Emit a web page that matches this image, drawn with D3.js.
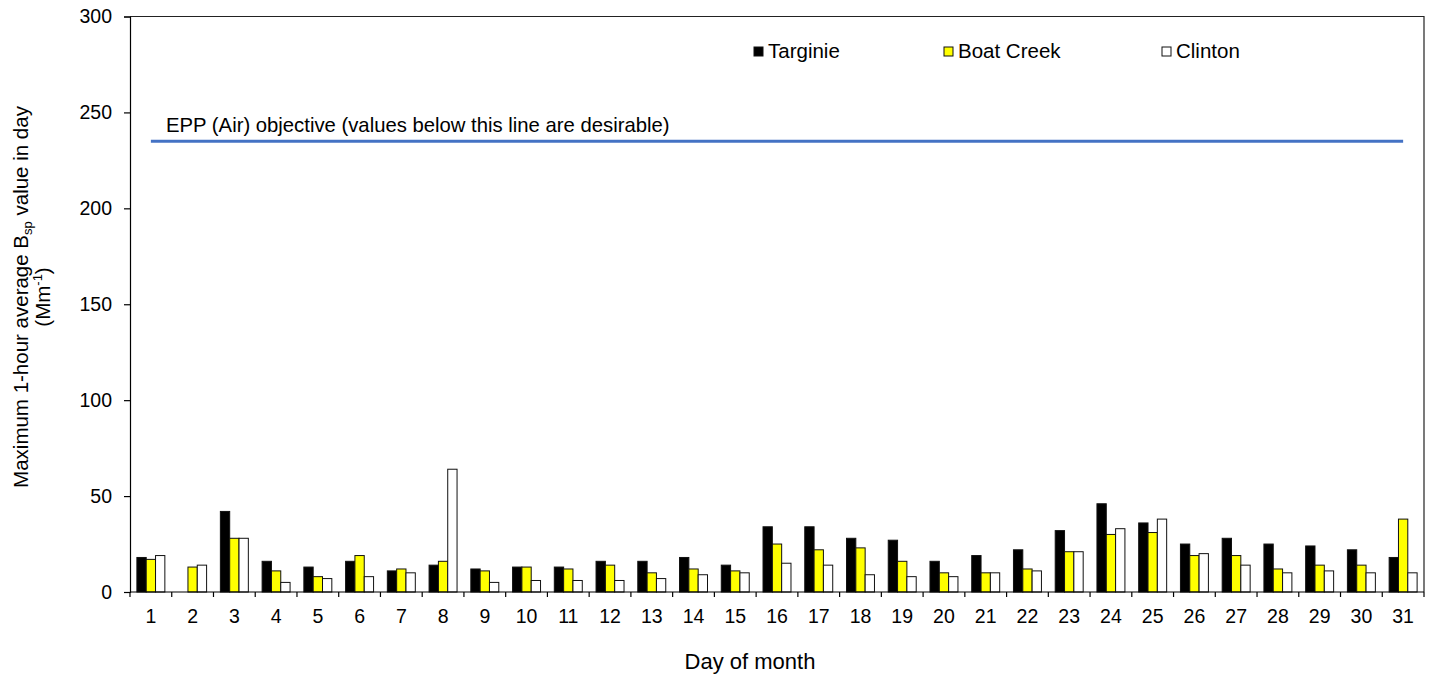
<!DOCTYPE html>
<html>
<head>
<meta charset="utf-8">
<script src="https://cdn.jsdelivr.net/npm/d3@7"></script>
<style>
  html, body { margin: 0; padding: 0; background: #fff; }
  svg { display: block; }
  text { font-family: "Liberation Sans", Arial, sans-serif; fill: #000; }
</style>
</head>
<body>
<svg id="chart" width="1435" height="678"></svg>
<script>
const days = ["1","2","3","4","5","6","7","8","9","10","11","12","13","14","15","16","17","18","19","20","21","22","23","24","25","26","27","28","29","30","31"];
const seriesNames = ["Targinie", "Boat Creek", "Clinton"];
const seriesColors = ["#000000", "#FFFF00", "#FFFFFF"];
const targinie  = [18,null,42,16,13,16,11,14,12,13,13,16,16,18,14,34,34,28,27,16,19,22,32,46,36,25,28,25,24,22,18];
const boatCreek = [17,13,28,11,8,19,12,16,11,13,12,14,10,12,11,25,22,23,16,10,10,12,21,30,31,19,19,12,14,14,38];
const clinton   = [19,14,28,5,7,8,10,64,5,6,6,6,7,9,10,15,14,9,8,8,10,11,21,33,38,20,14,10,11,10,10];
const objective = [235,235,235,235,235,235,235,235,235,235,235,235,235,235,235,235,235,235,235,235,235,235,235,235,235,235,235,235,235,235,235];
const yTicks = [0,50,100,150,200,250,300];
const objectiveLabel = "EPP (Air) objective (values below this line are desirable)";

(function () {
const svg = d3.select("#chart");
const mLeft = 130, mRight = 1424, mTop = 16.5, mBottom = 592;

const x = d3.scaleBand().domain(days).range([mLeft, mRight]).padding(0);
const bw = x.bandwidth();
const xs = d3.scaleBand().domain(seriesNames).range([bw * 0.165, bw * 0.835]).padding(0);
const y = d3.scaleLinear().domain([0, 300]).range([mBottom, mTop]);

const seriesData = [targinie, boatCreek, clinton];

// frame (top and right)
svg.append("path")
  .attr("d", `M${mLeft},${mTop}H${mRight}V${mBottom}`)
  .attr("fill", "none").attr("stroke", "#222").attr("stroke-width", 1.2);

// bars
seriesNames.forEach((name, si) => {
  svg.append("g").selectAll("rect")
    .data(days.map((d, i) => ({ day: d, v: seriesData[si][i] })).filter(d => d.v != null))
    .join("rect")
    .attr("x", d => x(d.day) + xs(name))
    .attr("width", xs.bandwidth())
    .attr("y", d => y(d.v))
    .attr("height", d => y(0) - y(d.v))
    .attr("fill", seriesColors[si])
    .attr("stroke", "#111")
    .attr("stroke-width", 1);
});

// objective line
const line = d3.line().x((d, i) => x(days[i]) + bw / 2).y(d => y(d));
svg.append("path").datum(objective)
  .attr("d", line)
  .attr("fill", "none").attr("stroke", "#4472C4").attr("stroke-width", 3);

svg.append("text")
  .attr("x", 166).attr("y", 131.5)
  .attr("font-size", 20.3)
  .text(objectiveLabel);

// y axis
const yAxis = d3.axisLeft(y).tickValues(yTicks).tickSize(6).tickPadding(12);
const gy = svg.append("g").attr("transform", `translate(${mLeft},0)`).call(yAxis);
gy.selectAll("text").attr("font-size", 19.5).attr("font-family", "Liberation Sans, Arial, sans-serif").attr("fill", "#000");
gy.selectAll("line, path").attr("stroke", "#000").attr("stroke-width", 1.2);

// x axis: ticks at category boundaries, labels at centers
const gx = svg.append("g").attr("transform", `translate(0,${mBottom})`);
gx.append("line").attr("x1", mLeft).attr("x2", mRight).attr("y1", 0).attr("y2", 0)
  .attr("stroke", "#000").attr("stroke-width", 1.2);
const bounds = days.map(d => x(d)).concat([mRight]);
gx.selectAll("line.tk").data(bounds).join("line").attr("class", "tk")
  .attr("x1", d => d).attr("x2", d => d).attr("y1", 0).attr("y2", 5)
  .attr("stroke", "#000").attr("stroke-width", 1.2);
gx.selectAll("text").data(days).join("text")
  .attr("x", d => x(d) + bw / 2).attr("y", 31)
  .attr("text-anchor", "middle").attr("font-size", 19.5)
  .text(d => d);

// x title
svg.append("text").attr("x", 750).attr("y", 668.5).attr("text-anchor", "middle")
  .attr("font-size", 22).text("Day of month");

// y title
const yt = svg.append("text").attr("transform", "translate(27.5,297) rotate(-90)")
  .attr("text-anchor", "middle").attr("font-size", 20.5);
yt.append("tspan").text("Maximum 1-hour average B");
yt.append("tspan").attr("font-size", 13).attr("dy", 4).text("sp");
yt.append("tspan").attr("dy", -4).text(" value in day");
const yt2 = svg.append("text").attr("transform", "translate(50,297) rotate(-90)")
  .attr("text-anchor", "middle").attr("font-size", 20.5);
yt2.append("tspan").text("(Mm");
yt2.append("tspan").attr("font-size", 13).attr("dy", -8).text("-1");
yt2.append("tspan").attr("dy", 8).text(")");

// legend
const legendX = [754, 944, 1162];
const lg = svg.append("g");
seriesNames.forEach((name, i) => {
  lg.append("rect").attr("x", legendX[i]).attr("y", 47).attr("width", 9).attr("height", 9)
    .attr("fill", seriesColors[i]).attr("stroke", "#111").attr("stroke-width", 1);
  lg.append("text").attr("x", legendX[i] + 14).attr("y", 57.5).attr("font-size", 20.5).text(name);
});
})();
</script>
</body>
</html>
